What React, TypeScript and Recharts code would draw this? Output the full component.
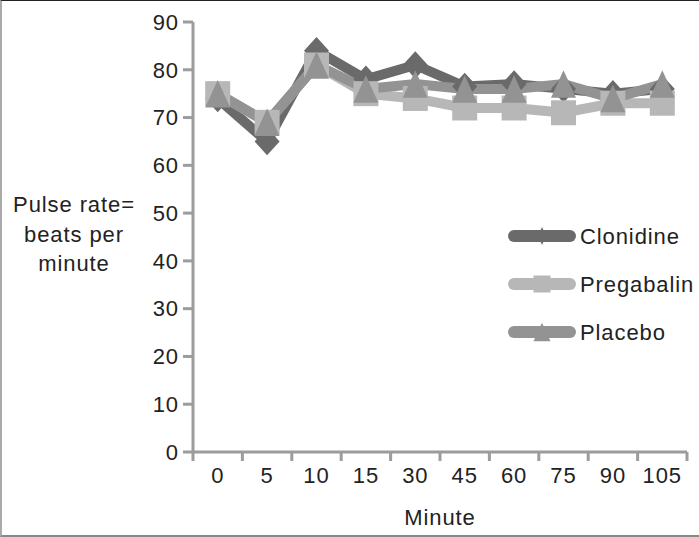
import { LineChart, Line, XAxis, YAxis } from 'recharts'

// Pulse rate per treatment group, read at each minute mark
const minutes = ['0', '5', '10', '15', '30', '45', '60', '75', '90', '105']
const clonidine = [74, 65, 84, 78, 81, 76.5, 77, 76, 75, 76]
const pregabalin = [75, 69, 81, 75, 74, 72, 72, 71, 73, 73]
const placebo = [75, 69, 81, 76, 77, 76, 76, 77, 74, 77]
const yTicks = [0, 10, 20, 30, 40, 50, 60, 70, 80, 90]
const bandEdges = [0, 1, 2, 3, 4, 5, 6, 7, 8, 9, 10]

const data = minutes.map((m, i) => ({
  slot: i + 0.5,
  minute: m,
  clonidine: clonidine[i],
  pregabalin: pregabalin[i],
  placebo: placebo[i],
}))

const W = 699
const H = 537
const M = { top: 22, right: 12, bottom: 0, left: 0 }
const Y_AXIS_W = 193
const X_AXIS_H = 85
const BAND = (W - M.left - M.right - Y_AXIS_W) / minutes.length

const FONT = '"Liberation Sans", Arial, sans-serif'
const FS = 22
const LS = 0.9
const AXIS = '#9c9c9c'
const TEXT = '#222'

const C_DARK = '#6a6a6a'
const C_LIGHT = '#b7b7b7'
const C_MID = '#939393'

const SERIES = [
  { key: 'clonidine', label: 'Clonidine', color: C_DARK, marker: 'diamond' },
  { key: 'pregabalin', label: 'Pregabalin', color: C_LIGHT, marker: 'square' },
  { key: 'placebo', label: 'Placebo', color: C_MID, marker: 'triangle' },
]

function markerShape(kind: string, cx: number, cy: number, s: number, color: string) {
  if (kind === 'diamond') {
    const w = s * 0.5, h = s * 0.55
    return <polygon points={`${cx},${cy - h} ${cx + w},${cy} ${cx},${cy + h} ${cx - w},${cy}`} fill={color} />
  }
  if (kind === 'square') {
    const h = s / 2
    return <rect x={cx - h} y={cy - h} width={s} height={s} fill={color} />
  }
  const w = s * 0.5, h = s * 0.55
  return <polygon points={`${cx},${cy - h} ${cx + w},${cy + h} ${cx - w},${cy + h}`} fill={color} />
}

function makeDot(kind: string, color: string) {
  return (props: any) => {
    const { cx, cy, index } = props
    return <g key={`${kind}-${index}`}>{markerShape(kind, cx, cy, 25, color)}</g>
  }
}

function XTick(props: any) {
  const { x, y, payload } = props
  const v = payload.value
  if (v >= minutes.length) return <g />
  return (
    <text x={x + BAND / 2} y={y + 20} textAnchor="middle" fontSize={FS} letterSpacing={LS} fill={TEXT} fontFamily={FONT}>
      {minutes[v]}
    </text>
  )
}

function YTitle() {
  const lines = ['Pulse rate=', 'beats per', 'minute']
  return (
    <text textAnchor="middle" fontSize={FS} letterSpacing={LS} fill={TEXT} fontFamily={FONT}>
      {lines.map((l, i) => (
        <tspan key={l} x={74} y={212 + i * 29.5}>{l}</tspan>
      ))}
    </text>
  )
}

function LegendBox() {
  return (
    <svg width={205} height={150} style={{ display: 'block' }}>
      {SERIES.map((s, i) => {
        const cy = 20 + i * 48
        return (
          <g key={s.key}>
            <line x1={22} x2={78} y1={cy} y2={cy} stroke={s.color} strokeWidth={12} strokeLinecap="round" />
            {s.marker === 'diamond'
              ? <polygon points={`50,${cy - 9} 54,${cy} 50,${cy + 9} 46,${cy}`} fill={s.color} />
              : markerShape(s.marker, 50, cy, 17, s.color)}
            <text x={88} y={cy + 8} fontSize={FS} letterSpacing={LS} fill={TEXT} fontFamily={FONT}>{s.label}</text>
          </g>
        )
      })}
    </svg>
  )
}

export default function App() {
  return (
    <div
      style={{
        position: 'absolute', left: 0, top: 0, width: W, height: H, boxSizing: 'border-box',
        borderTop: '1px solid #222', borderLeft: '2px solid #aaa', borderBottom: '2px solid #888',
        background: '#fff', overflow: 'hidden',
      }}
    >
      <div style={{ position: 'absolute', left: -2, top: -1 }}>
        <LineChart width={W} height={H} data={data} margin={M}>
          <XAxis
            dataKey="slot"
            type="number"
            domain={[0, 10]}
            ticks={bandEdges}
            interval={0}
            height={X_AXIS_H}
            stroke={AXIS}
            strokeWidth={3}
            tickSize={9}
            tick={<XTick />}
            label={{ value: 'Minute', position: 'insideBottom', offset: 12, fontSize: FS, fill: TEXT, fontFamily: FONT, letterSpacing: LS }}
          />
          <YAxis
            domain={[0, 90]}
            ticks={yTicks}
            interval={0}
            width={Y_AXIS_W}
            stroke={AXIS}
            strokeWidth={3}
            tickSize={10}
            tickMargin={4}
            tick={{ fontSize: FS, fill: TEXT, fontFamily: FONT, letterSpacing: LS }}
            label={{ content: () => <YTitle /> }}
          />
          {SERIES.map((s) => (
            <Line
              key={s.key}
              dataKey={s.key}
              name={s.label}
              stroke={s.color}
              strokeWidth={10}
              strokeLinejoin="miter"
              dot={makeDot(s.marker, s.color)}
              activeDot={false}
              isAnimationActive={false}
            />
          ))}
        </LineChart>
        <div style={{ position: 'absolute', left: 492, top: 216 }}>
          <LegendBox />
        </div>
      </div>
    </div>
  )
}
